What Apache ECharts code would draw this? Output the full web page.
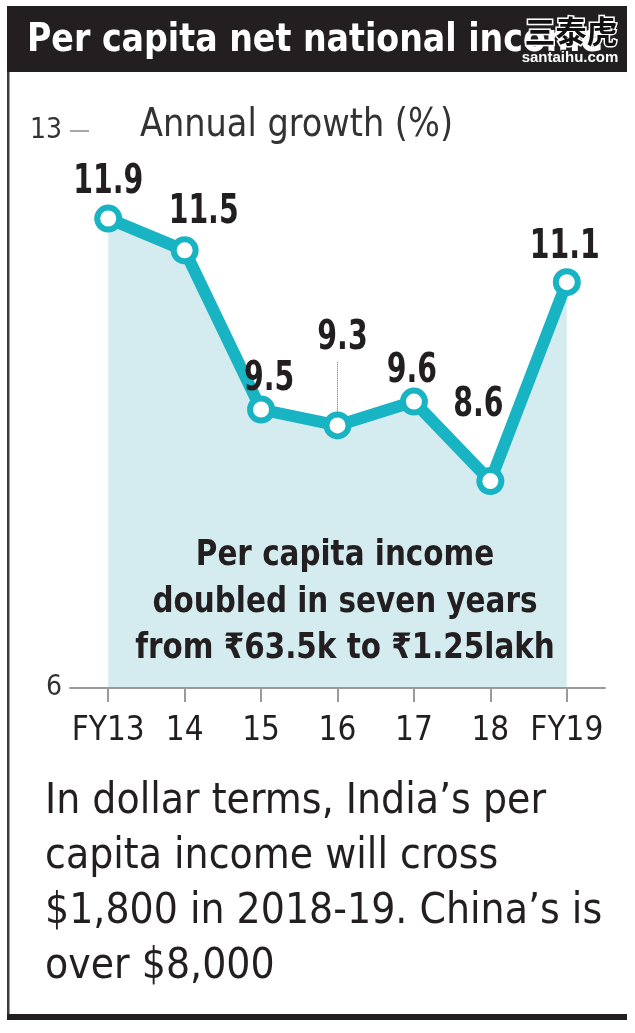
<!DOCTYPE html>
<html>
<head>
<meta charset="utf-8">
<script src="https://cdn.jsdelivr.net/npm/echarts@6/dist/echarts.min.js"></script>
<style>
  html, body { margin: 0; padding: 0; background: #ffffff; }
  #chart { width: 635px; height: 1033px; }
</style>
</head>
<body>
<div id="chart"></div>
<script>
// ---- data ----
const categories = ['FY13', '14', '15', '16', '17', '18', 'FY19'];
const growth = [11.9, 11.5, 9.5, 9.3, 9.6, 8.6, 11.1];
const yTickValues = [6, 13];
const titleText = 'Per capita net national income';
const subtitleText = 'Annual growth (%)';
const noteLines = ['Per capita income', 'doubled in seven years', 'from \u20b963.5k to \u20b91.25lakh'];
const footLines = ['In dollar terms, India\u2019s per', 'capita income will cross', '$1,800 in 2018-19. China\u2019s is', 'over $8,000'];

// ---- layout / style ----
// offset of each value label's centre from its point, in pixels
const labelOffsets = [[0, -38], [19, -40], [8, -32], [5, -89], [-2, -32], [-12, -78], [-2, -37]];
const COND = "'Liberation Sans Narrow', 'Arial Narrow', 'DejaVu Sans Condensed', sans-serif";
const TEAL = '#18b4c3';
const FILL = '#d4ecef';
const INK = '#231f20';

const mctx = document.createElement('canvas').getContext('2d');
function fit(text, font, target) { mctx.font = font; return target / mctx.measureText(text).width; }

const titleFont = 'bold 39px ' + COND;
const subFont = '39px ' + COND;
const noteFont = 'bold 35px ' + COND;
const footFont = '42px ' + COND;
const valFont = 'bold 41px ' + COND;

const titleScale = fit('Per capita net national inc', titleFont, 496);
const subScale = fit(subtitleText, subFont, 313);
const noteScale = fit(noteLines[1], noteFont, 385);
const footScale = fit(footLines[0], footFont, 501);
const valScale = fit('11.9', valFont, 70);

function txt(id, x, y, text, font, fill, align, vAlign, scaleX, lineHeight, extra) {
  const style = Object.assign({
    text: text, font: font, fill: fill,
    textAlign: align, align: align,
    textVerticalAlign: vAlign, verticalAlign: vAlign
  }, lineHeight ? { lineHeight: lineHeight } : {}, extra || {});
  return { id: id, type: 'text', x: x, y: y, scaleX: scaleX, scaleY: 1, style: style, z: 10, silent: true };
}

const chart = echarts.init(document.getElementById('chart'), null, { renderer: 'canvas' });

const baseGraphic = [
  // title bar
  { id: 'bar', type: 'rect', shape: { x: 7, y: 6, width: 620, height: 66 }, style: { fill: INK }, z: 1, silent: true },
  txt('title', 27, 41, titleText, titleFont, '#ffffff', 'left', 'middle', titleScale),
  // watermark
  txt('wm1', 571, 31, '三泰虎', "bold 31px 'Noto Sans CJK SC', sans-serif", '#111', 'center', 'middle', 1, null,
      { stroke: '#ffffff', lineWidth: 3 }),
  txt('wm2', 570, 58, 'santaihu.com', "bold 15px 'Liberation Sans', Arial, sans-serif", '#ffffff', 'center', 'middle', 1, null,
      { stroke: '#222', lineWidth: 2.5 }),
  // frame
  { id: 'lborder', type: 'rect', shape: { x: 7, y: 72, width: 2.5, height: 944 }, style: { fill: '#3c3c3c' }, z: 1, silent: true },
  { id: 'bborder', type: 'rect', shape: { x: 7, y: 1014, width: 620, height: 6 }, style: { fill: INK }, z: 1, silent: true },
  // subtitle
  txt('sub', 140, 126, subtitleText, subFont, '#333', 'left', 'middle', subScale),
  // note inside chart
  txt('note', 345, 533, noteLines.join('\n'), noteFont, INK, 'center', 'top', noteScale, 46.5),
  // footer paragraph
  txt('foot', 45, 774.5, footLines.join('\n'), footFont, INK, 'left', 'top', footScale, 55)
];

const option = {
  animation: false,
  backgroundColor: '#ffffff',
  grid: { left: 70, right: 30, top: 131, bottom: 345, containLabel: false },
  xAxis: {
    type: 'category',
    data: categories,
    boundaryGap: true,
    z: 5,
    axisLine: { show: true, lineStyle: { color: '#9a9a9a', width: 2 } },
    axisTick: { show: true, alignWithLabel: true, length: 14, lineStyle: { color: '#9a9a9a', width: 2 } },
    axisLabel: { color: INK, fontFamily: COND, fontSize: 33, margin: 27, interval: 0 },
    splitLine: { show: false }
  },
  yAxis: {
    type: 'value',
    min: yTickValues[0],
    max: yTickValues[1],
    interval: yTickValues[1] - yTickValues[0],
    axisLine: { show: false },
    axisTick: { show: true, inside: true, length: 19, lineStyle: { color: '#8a8a8a', width: 1.5 } },
    axisLabel: { color: '#333', fontFamily: COND, fontSize: 28, margin: 8 },
    splitLine: { show: false }
  },
  series: [{
    type: 'line',
    data: growth,
    symbol: 'circle',
    symbolSize: 22,
    lineStyle: { color: TEAL, width: 12, join: 'round' },
    itemStyle: { color: '#ffffff', borderColor: TEAL, borderWidth: 6 },
    areaStyle: { color: FILL, opacity: 1, origin: 'start' },
    z: 3,
    label: { show: false },
    markLine: {
      silent: true,
      symbol: ['none', 'none'],
      label: { show: false },
      lineStyle: { color: '#666', width: 1, type: 'dotted' },
      data: [[{ coord: [3, 9.46] }, { coord: [3, 10.1] }]]
    }
  }],
  graphic: baseGraphic
};

chart.setOption(option);

// value labels, placed from the chart's own scales
const valueLabels = growth.map((v, i) => {
  const p = chart.convertToPixel({ seriesIndex: 0 }, [i, v]);
  const off = labelOffsets[i];
  return txt('val' + i, p[0] + off[0], p[1] + off[1] + 2, v.toFixed(1), valFont, INK, 'center', 'middle', valScale);
});
chart.setOption({ graphic: baseGraphic.concat(valueLabels) });
</script>
</body>
</html>
